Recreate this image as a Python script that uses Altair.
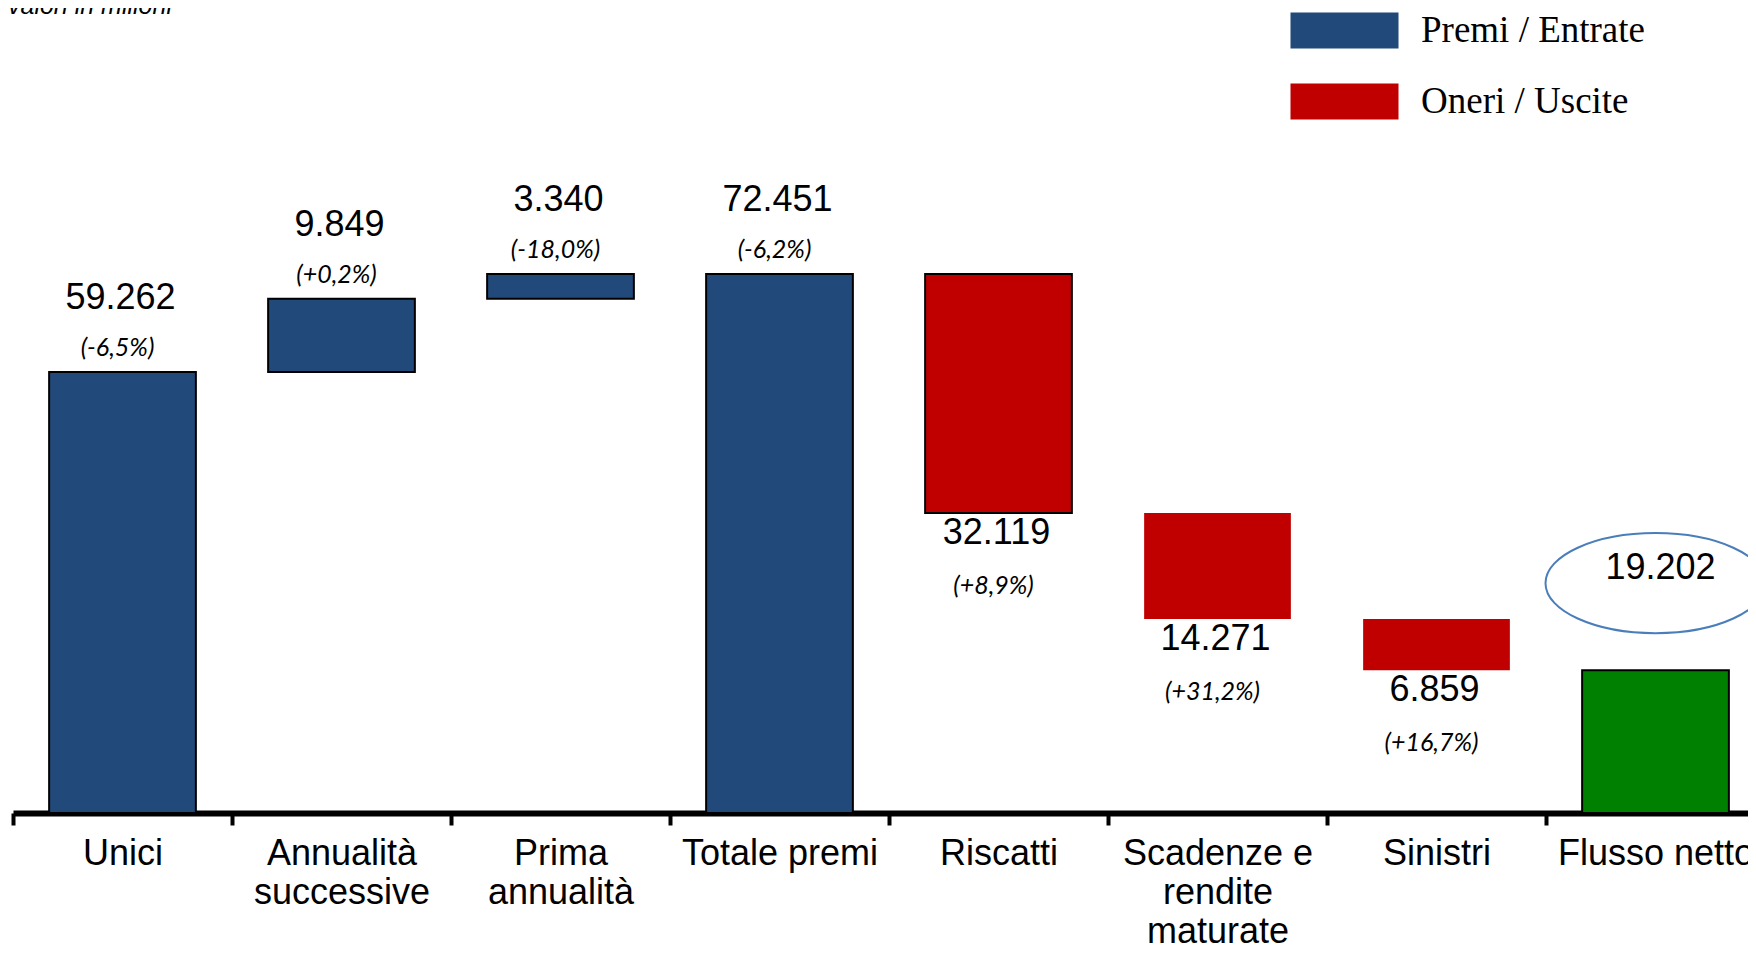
import altair as alt
import pandas as pd

# ---- data ----
categories = ["Unici", "Annualità successive", "Prima annualità", "Totale premi",
              "Riscatti", "Scadenze e rendite maturate", "Sinistri", "Flusso netto"]
label_lines = [["Unici"], ["Annualità", "successive"], ["Prima", "annualità"], ["Totale premi"],
               ["Riscatti"], ["Scadenze e", "rendite", "maturate"], ["Sinistri"], ["Flusso netto"]]
values = [59262, 9849, 3340, 72451, -32119, -14271, -6859, 19202]
measures = ["relative", "relative", "relative", "total",
            "relative", "relative", "relative", "total"]
kinds = ["Premi / Entrate"] * 4 + ["Oneri / Uscite"] * 3 + ["Flusso netto"]
changes = ["(-6,5%)", "(+0,2%)", "(-18,0%)", "(-6,2%)", "(+8,9%)", "(+31,2%)", "(+16,7%)", ""]
kind_domain = ["Premi / Entrate", "Oneri / Uscite", "Flusso netto"]
kind_colors = ["#214A7B", "#C00000", "#008000"]
legend_values = ["Premi / Entrate", "Oneri / Uscite"]
no_stroke = ["Scadenze e rendite maturate", "Sinistri"]
caption = "valori in milioni"

# ---- waterfall table ----
rows = []
running = 0
for cat, v, m, k, ch in zip(categories, values, measures, kinds, changes):
    if m == "total":
        start, end = 0, v
    else:
        start, end = running, running + v
    running = end
    pos = "net" if k == "Flusso netto" else ("down" if v < 0 else "up")
    rows.append(dict(category=cat, start=start, end=end, kind=k, change=ch, pos=pos,
                     label=f"{abs(v):,}".replace(",", ".")))
df = pd.DataFrame(rows)

# multi-line axis labels
expr = "datum.label"
for cat, lines in reversed(list(zip(categories, label_lines))):
    arr = "[" + ",".join("'" + s + "'" for s in lines) + "]"
    expr = f"datum.label == '{cat}' ? {arr} : ({expr})"

xenc = alt.X("category:N", sort=categories)

base = alt.Chart(df)

bars = base.mark_bar(width={"band": 0.67}, stroke="black", strokeWidth=2).encode(
    x=alt.X("category:N", sort=categories,
            scale=alt.Scale(range=[0, 1752], paddingInner=0, paddingOuter=0),
            axis=alt.Axis(title=None, labelAngle=0, tickBand="extent", domainColor="black",
                          domainWidth=6, tickColor="black", tickWidth=4, tickSize=12,
                          labelFont="Liberation Sans", labelFontSize=36, labelColor="black",
                          labelPadding=11, labelLineHeight=39, labelLimit=0,
                          labelOverlap=False, labelExpr=expr, grid=False)),
    y=alt.Y("start:Q", scale=alt.Scale(domain=[0, 100000], nice=False, zero=True), axis=None),
    y2="end:Q",
    color=alt.Color("kind:N",
                    scale=alt.Scale(domain=kind_domain, range=kind_colors),
                    legend=alt.Legend(title=None, values=legend_values, orient="none",
                                      legendX=1313, legendY=-57, padding=0,
                                      symbolType="M-3,-1H3V1H-3Z", symbolSize=1296,
                                      symbolStrokeWidth=0, symbolOpacity=1,
                                      labelFont="Liberation Serif", labelFontSize=37,
                                      labelColor="black", labelOffset=58, rowPadding=33,
                                      labelLimit=0)),
    strokeOpacity=alt.condition(alt.FieldOneOfPredicate(field="category", oneOf=no_stroke),
                                alt.value(0), alt.value(1)),
)

val_style = dict(font="Liberation Sans", fontSize=36, color="black", baseline="middle")
pct_style = dict(font="Lato", fontSize=25, fontStyle="italic", color="black", baseline="middle")

up_val = base.transform_filter("datum.pos == 'up'").mark_text(dy=-74, dx=-2, **val_style).encode(
    x=xenc, y="end:Q", text="label:N")
up_pct = base.transform_filter("datum.pos == 'up'").mark_text(dy=-24, dx=-5, **pct_style).encode(
    x=xenc, y="end:Q", text="change:N")
dn_val = base.transform_filter("datum.pos == 'down'").mark_text(dy=20, dx=-2, **val_style).encode(
    x=xenc, y="end:Q", text="label:N")
dn_pct = base.transform_filter("datum.pos == 'down'").mark_text(dy=73, dx=-5, **pct_style).encode(
    x=xenc, y="end:Q", text="change:N")
net_val = base.transform_filter("datum.pos == 'net'").mark_text(dy=-102, dx=5, **val_style).encode(
    x=xenc, y="end:Q", text="label:N")

ellipse_path = ("M-1,0C-1,-0.2513,-0.5523,-0.455,0,-0.455C0.5523,-0.455,1,-0.2513,1,0"
                "C1,0.2513,0.5523,0.455,0,0.455C-0.5523,0.455,-1,0.2513,-1,0Z")
net_ring = base.transform_filter("datum.pos == 'net'").mark_point(
    shape=ellipse_path, size=48400, filled=False, stroke="#4A7EBB", strokeWidth=2,
    opacity=1).encode(x=xenc, y="end:Q", yOffset=alt.value(-87))

# unit caption, mostly cut off at the top edge as in the reference
note = alt.Chart(pd.DataFrame({"t": [caption]})).mark_text(
    align="left", baseline="alphabetic", font="Liberation Sans", fontSize=25,
    fontStyle="italic", color="black").encode(
    x=alt.value(-5), y=alt.value(-55), text="t:N")

chart = alt.layer(bars, up_val, up_pct, dn_val, dn_pct, net_val, net_ring, note).properties(
    width=1735, height=744,
    autosize=alt.AutoSizeParams(type="none"),
    padding={"left": 5, "top": 61, "right": 0, "bottom": 134},
    background="white",
).configure_view(stroke=None)

chart.save("out.html", embed_options={"renderer": "svg", "actions": False})
